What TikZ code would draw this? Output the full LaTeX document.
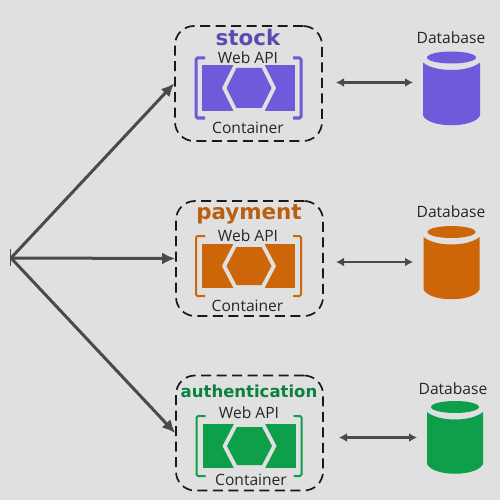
\documentclass[tikz,border=0pt]{standalone}
\usepackage{fontspec}
\setmainfont{Open Sans}
\newfontfamily\ttlfont{DejaVu Sans}
\usetikzlibrary{arrows.meta}
\definecolor{bg}{HTML}{E0E0E0}
\definecolor{cstock}{HTML}{6E5ADB}
\definecolor{tstock}{HTML}{5B4BB0}
\definecolor{cpay}{HTML}{CC6608}
\definecolor{tpay}{HTML}{B85F10}
\definecolor{cauth}{HTML}{0E9F4B}
\definecolor{tauth}{HTML}{0B8040}
\definecolor{ink}{HTML}{4A4A4A}
\tikzset{
  lbl/.style={font=\fontsize{15.6}{16}\selectfont,text=black!85,inner sep=0pt},
  ttl/.style={font=\ttlfont\fontsize{21.4}{23}\bfseries\selectfont,inner sep=0pt},
  dbox/.style={draw=black!90,line width=1.7pt,dash pattern=on 10pt off 5.5pt,rounded corners=19pt,inner sep=0pt},
  link/.style={draw=ink,line width=3pt,-{Latex[length=13pt,width=12pt]}},
  both/.style={draw=ink,line width=2.6pt,{Latex[length=8pt,width=9pt]}-{Latex[length=8pt,width=9pt]}}
}
% #1 colour, #2 cx, #3 cy of the fill, #4 half-height of the fill, #5 bracket half-height, #6 bracket line width
\newcommand{\apiicon}[6]{%
  \fill[#1] (#2-47,#3-#4) rectangle (#2+46,#3+#4);
  \fill[bg] (#2-27,#3) -- (#2-15,#3-#4-1) -- (#2+15,#3-#4-1) -- (#2+27,#3) -- (#2+15,#3+#4+1) -- (#2-15,#3+#4+1) -- cycle;
  \fill[#1] (#2-22.5,#3) -- (#2-12.5,#3-#4+3) -- (#2+12.5,#3-#4+3) -- (#2+22.5,#3) -- (#2+12.5,#3+#4-3) -- (#2-12.5,#3+#4-3) -- cycle;
  \draw[#1,line width=#6,rounded corners=1.5pt] (#2-44,#3-#5) -- (#2-53,#3-#5) -- (#2-53,#3+#5) -- (#2-44,#3+#5);
  \draw[#1,line width=#6,rounded corners=1.5pt] (#2+44,#3-#5) -- (#2+52,#3-#5) -- (#2+52,#3+#5) -- (#2+44,#3+#5);
}
% #1 colour, #2 cx, #3 top ellipse cy, #4 bottom y, #5 half width
\newcommand{\dbcyl}[5]{%
  \fill[#1] (#2-#5,#3+5) .. controls (#2-#5+12,#3+15) and (#2+#5-12,#3+15) .. (#2+#5,#3+5)
    -- (#2+#5,#4-10) .. controls (#2+#5-6,#4+3) and (#2-#5+6,#4+3) .. (#2-#5,#4-10) -- cycle;
  \fill[#1] (#2,#3) ellipse [x radius=#5-4,y radius=6];
}
\begin{document}
\begin{tikzpicture}[x=1pt,y=-1pt]
\useasboundingbox (0,0) rectangle (500,500);
\fill[bg] (0,0) rectangle (500,500);

\node[dbox,minimum width=147pt,minimum height=115pt] (stockbox) at (248.5,83.5) {};
\node[dbox,minimum width=147pt,minimum height=115pt] (paybox) at (249.5,258.5) {};
\node[dbox,minimum width=147pt,minimum height=115pt] (authbox) at (249.5,433) {};

\apiicon{cstock}{249}{88}{23}{30}{3pt}
\apiicon{cpay}{249}{266}{22}{30}{2pt}
\apiicon{cauth}{249.5}{446}{22}{30}{2pt}

\node[ttl,text=tstock] (stocktitle) at (248,38) {stock};
\node[ttl,text=tpay] (paytitle) at (249,214) {payment};
\node[ttl,text=tauth,font=\ttlfont\fontsize{16.5}{18}\bfseries\selectfont] (authtitle) at (249,391.5) {authentication};

\node[lbl] (stockapi) at (248,58) {Web API};
\node[lbl] (payapi) at (248,236) {Web API};
\node[lbl] (authapi) at (249,413) {Web API};
\node[lbl] (stockcont) at (248,128) {Container};
\node[lbl] (paycont) at (247.5,306) {Container};
\node[lbl] (authcont) at (251,480) {Container};

\dbcyl{cstock}{451.5}{57.5}{125.5}{28.5}
\dbcyl{cpay}{451.5}{232}{299.5}{28}
\dbcyl{cauth}{455}{407}{474}{28}

\node[lbl] (stockdb) at (451,38) {Database};
\node[lbl] (paydb) at (451,212) {Database};
\node[lbl] (authdb) at (453,389) {Database};

\coordinate (hub) at (11,258);
\draw[ink,line width=1.8pt] (10.5,249) -- (10.5,266);
\draw[link] (hub) -- (stockbox.west);
\draw[link] (hub) -- (paybox.west);
\draw[link] (hub) -- (authbox.west);

\coordinate (a1) at (336,82.5); \coordinate (b1) at (413,82.5);
\coordinate (a2) at (336,262); \coordinate (b2) at (413,262);
\coordinate (a3) at (339,437.5); \coordinate (b3) at (417,437.5);
\draw[both] (a1) -- (b1);
\draw[both] (a2) -- (b2);
\draw[both] (a3) -- (b3);
\end{tikzpicture}
\end{document}
